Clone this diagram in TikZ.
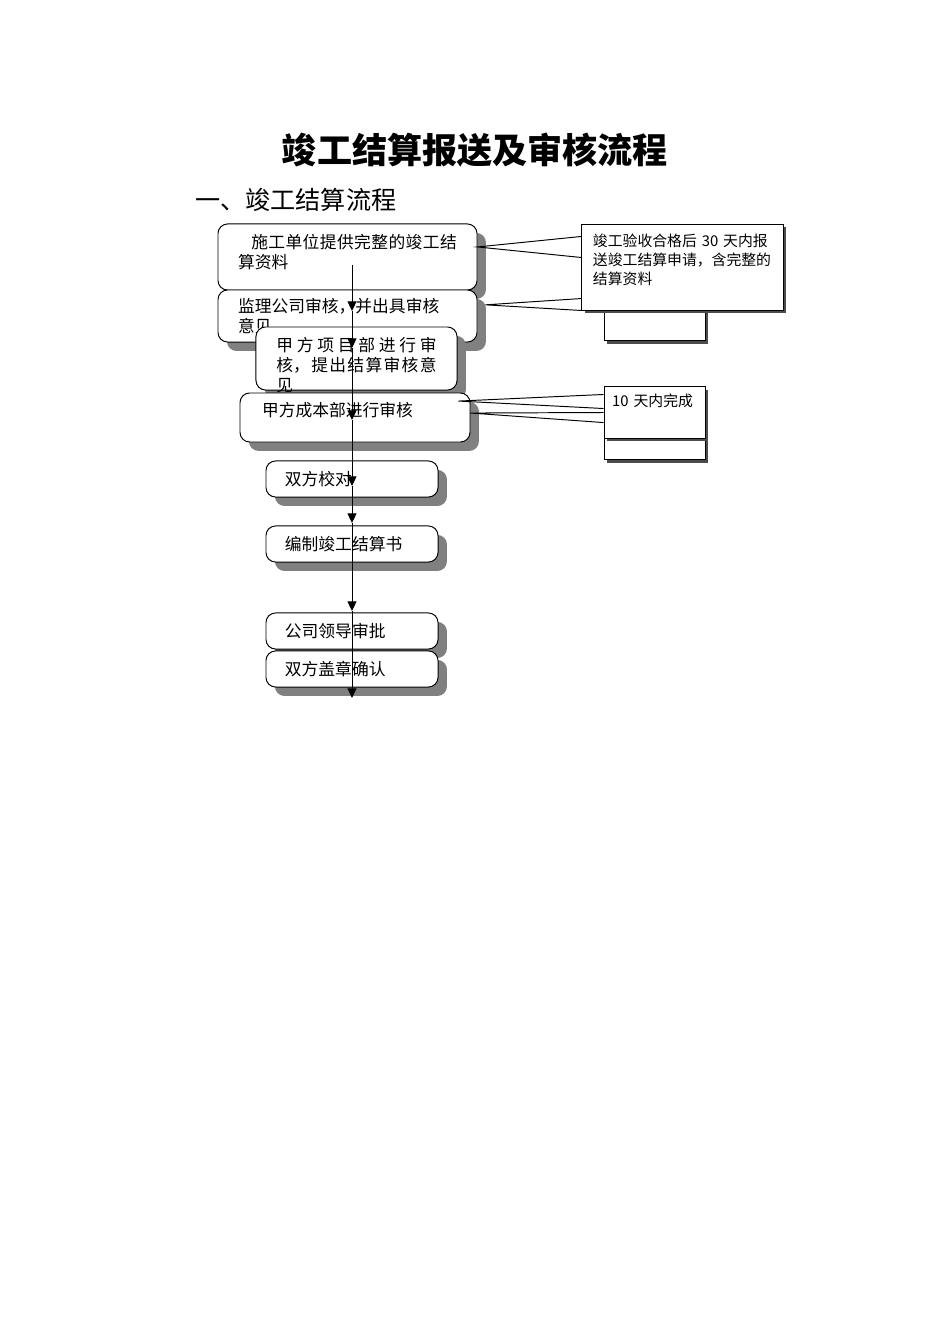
\documentclass[tikz,border=0pt]{standalone}
\usepackage{fontspec}
\setmainfont{Noto Sans CJK SC}
\usetikzlibrary{arrows.meta,shadows}
\XeTeXlinebreaklocale "zh"
\XeTeXlinebreakskip=0pt plus 0.5em

\begin{document}
\begin{tikzpicture}[x=0.6266pt,y=-0.6266pt,
	stage/.style={draw,fill=white,rounded corners=6pt,line width=0.6pt,
		drop shadow={shadow xshift=5.6pt,shadow yshift=-5.6pt,fill=black!50,opacity=1},
		align=justify,inner ysep=0pt,font=\fontsize{10.5}{12.5}\selectfont},
	note/.style={draw,fill=white,line width=0.6pt,
		drop shadow={shadow xshift=1.9pt,shadow yshift=-1.9pt,fill=black!70,opacity=1},
		align=left,inner ysep=0pt,font=\fontsize{9.3}{11.9}\selectfont},
	flow/.style={-{Triangle[length=6pt,width=5.6pt]},line width=0.6pt}]
	\useasboundingbox (0,0) rectangle (950,1344);
	\node [inner sep=0,font=\fontsize{22}{26}\selectfont\bfseries] at (475,150) (title) {竣工结算报送及审核流程};
	\node [inner sep=0,anchor=west,font=\fontsize{15.75}{18}\selectfont] at (195,200) (sub) {一、竣工结算流程};
	\node [stage,minimum width=162.3pt,minimum height=41.4pt,text width=137pt,text depth=19pt] at (347.5,257) (supply) {\hspace*{0.78em}施工单位提供完整的竣工结算资料};
	\node [stage,minimum width=162.3pt,minimum height=32.6pt,text width=137pt] at (347.5,316) (super) {监理公司审核，并出具审核\\意见};
	\node [stage,minimum width=126pt,minimum height=39.5pt,text width=100.3pt,text depth=17.5pt] at (356.5,358.5) (owner) {甲方项目部进行审核，提出结算审核意见};
	\node [stage,minimum width=144.1pt,minimum height=30.7pt,text width=116.5pt,text depth=10pt] at (355,417.5) (cost) {甲方成本部进行审核};
	\node [note,minimum width=63.3pt,minimum height=32pt] at (654.5,315) (noteAb) {};
	\node [note,minimum width=126pt,minimum height=53.9pt,text width=112.2pt,text depth=33.8pt] at (682.5,267) (noteA) {竣工验收合格后 30 天内报\\送竣工结算申请，含完整的\\结算资料};
	\node [note,minimum width=63.3pt,minimum height=20pt] at (654.5,444) (noteBb) {};
	\node [note,minimum width=63.3pt,minimum height=32pt,inner xsep=5pt,text width=53pt,text depth=15pt] at (654.5,412.5) (noteB) {10 天内完成};
	\draw [line width=0.6pt] ([yshift=-8.1pt]noteA.north west) -- ([yshift=6.3pt]supply.east) -- ([yshift=-21.3pt]noteA.north west);
	\draw [line width=0.6pt] ([yshift=-47pt]noteA.north west) -- ([xshift=5pt,yshift=7pt]super.east) -- (noteA.south west);
	\draw [line width=0.6pt] ([yshift=-5pt]noteB.north west) -- ([xshift=-7.5pt,yshift=10.3pt]cost.east) -- ([yshift=-13.8pt]noteB.north west);
	\draw [line width=0.6pt] ([yshift=-16.3pt]noteB.north west) -- ([yshift=2.8pt]cost.east) -- ([yshift=-22.6pt]noteB.north west);
	\foreach \n/\y/\t in {check/479/双方校对, draft/544/编制竣工结算书, approve/631/公司领导审批, seal/669/双方盖章确认}
		\node [stage,minimum width=107.8pt,minimum height=22.6pt,text width=84pt] at (352,\y) (\n) {\t};
	\foreach \n/\y in {a0/265, a1/311, a2/348, a3/420, a4/486, a5/523, a6/611, a7/698}
		\coordinate (\n) at (352,\y);
	\foreach \s/\e in {a0/a1, a1/a2, a2/a3, a3/a4, a4/a5, a5/a6, a6/a7}
		\draw [flow] (\s) -- (\e);
\end{tikzpicture}
\end{document}
